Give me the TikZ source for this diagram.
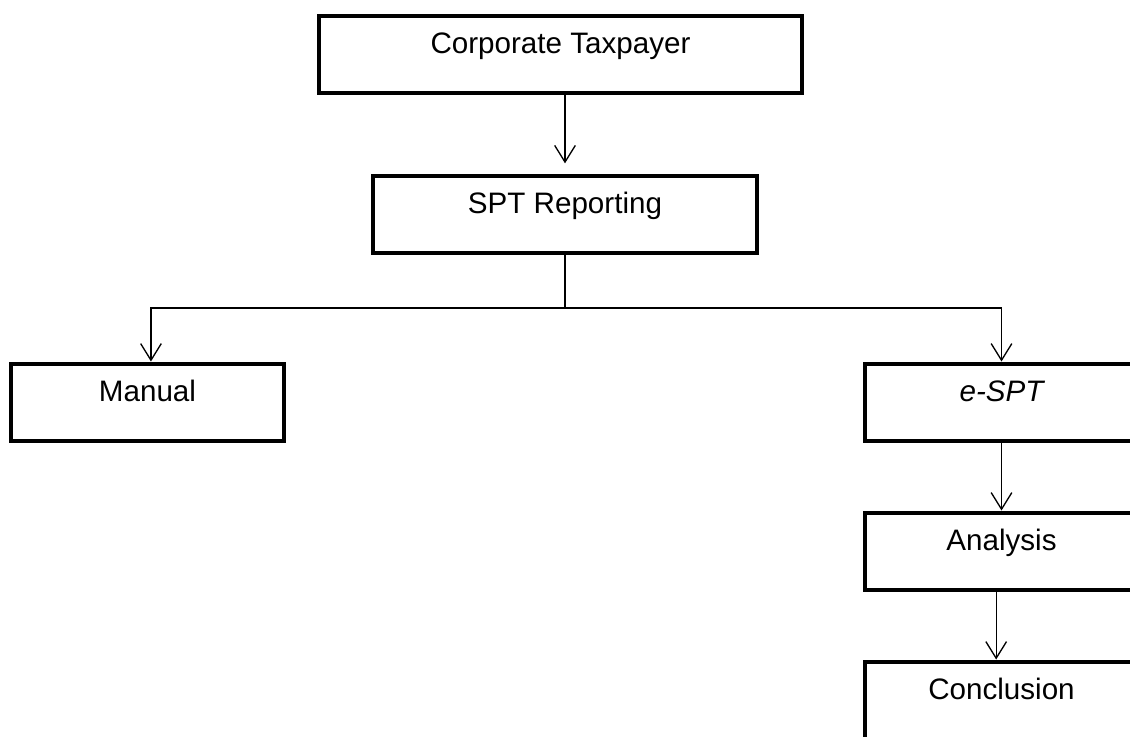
\documentclass[tikz,border=0pt]{standalone}
\usepackage{fontspec}
\setmainfont{Liberation Sans}
\usetikzlibrary{arrows.meta}
\tikzset{
  box/.style={draw, line width=3pt, rectangle, inner sep=0pt, minimum height=57.75pt,
    text height=15pt, text depth=16pt, font=\fontsize{22.2}{26}\selectfont},
  smallbox/.style={box, minimum width=204.75pt},
  conn/.style={line width=1pt},
  arr/.style={conn, -{Straight Barb[length=12.5pt,width=15.5pt,line width=1pt]}}
}
\begin{document}
\begin{tikzpicture}[x=0.75pt,y=-0.75pt]
\useasboundingbox (0,0) rectangle (1130,736);
\clip (0,0) rectangle (1130,736);
\node[box, minimum width=362.25pt] (corp) at (560.5,54) {Corporate Taxpayer};
\node[box, minimum width=288pt] (spt) at (565,214.5) {SPT Reporting};
\node[smallbox] (manual) at (147.5,402) {Manual};
\node[smallbox] (esp) at (1001.5,402) {\itshape e-SPT};
\node[smallbox] (ana) at (1001.5,551) {Analysis};
\node[smallbox] (conc) at (1001.5,700) {Conclusion};
\coordinate (j) at (565,308);
\draw[arr, shorten >=8pt] (corp.south -| spt.north) -- (spt.north);
\draw[conn] (spt.south) -- (j);
\draw[arr] (j) -| ([xshift=2.6pt]manual.north);
\draw[arr] (j) -| (esp.north);
\draw[arr] (esp.south) -- (ana.north);
\draw[arr] ([xshift=-4pt]ana.south) -- ([xshift=-4pt]conc.north);
\end{tikzpicture}
\end{document}
